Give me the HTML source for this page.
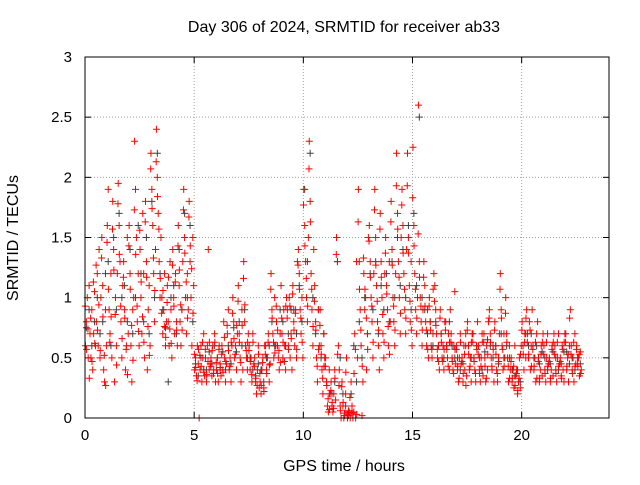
<!DOCTYPE html>
<html><head><meta charset="utf-8"><style>
html,body{margin:0;padding:0;background:#fff;}
svg text{font-family:"Liberation Sans",sans-serif;font-size:16px;fill:#000;}
svg text.tick{font-size:15px;}
</style></head><body>
<svg id="chart" width="640" height="480" xmlns="http://www.w3.org/2000/svg">
<rect width="640" height="480" fill="#fff"/>
<text x="344" y="32" text-anchor="middle">Day 306 of 2024, SRMTID for receiver ab33</text>
<text x="344" y="471" text-anchor="middle">GPS time / hours</text>
<text transform="translate(18,238) rotate(-90)" text-anchor="middle">SRMTID / TECUs</text>
<g id="grid"></g><g id="ticks"></g><g id="black"></g><g id="red"></g>
<rect x="85" y="57" width="524" height="361" fill="none" stroke="#000"/>
</svg>
<script>
const xTicks=[0,5,10,15,20];
const yTicks=[0,0.5,1,1.5,2,2.5,3];
const yTickLabels=["0","0.5","1","1.5","2","2.5","3"];
const binStart=0, binWidth=0.25;
const redValues=[
[0.6,0.8,1.0,0.5,1.1,0.7],[0.5,0.9,0.4,0.7,1.05,0.6],[0.8,1.2,0.6,1.4,0.5,1.0],[1.5,1.1,0.4,0.3,0.9,0.6],
[1.6,1.9,0.9,0.7,1.2,0.5],[1.8,1.4,0.3,1.0,0.6,1.2],[1.95,1.6,1.3,0.8,0.5,1.1],[1.3,0.9,0.4,0.6,1.5,0.7],
[1.6,1.2,0.6,0.3,0.9,1.0],[2.3,1.9,1.5,0.8,1.2,0.6],[1.4,1.0,0.7,1.7,1.2,0.5],[1.8,1.3,0.4,0.9,1.1,0.6],
[2.2,1.9,1.6,1.2,0.8,1.4],[2.4,2.0,1.7,1.3,1.0,1.5],[1.0,0.7,0.9,1.2,0.6,0.8],[1.1,0.8,0.6,1.3,0.9,0.5],
[1.4,1.0,0.7,1.2,0.8,0.6],[1.6,1.1,0.8,0.6,0.9,1.3],[1.9,1.5,1.0,0.7,1.2,0.9],[1.8,1.3,1.0,0.6,1.5,1.1],
[0.4,0.5,0.35,0.6,0.45,0.0],[0.4,0.6,0.3,0.5,0.7,0.35],[0.5,0.3,0.6,1.4,0.4,0.45],[0.5,0.35,0.6,0.4,0.7,0.3],
[0.4,0.5,0.3,0.6,0.45,0.35],[0.6,0.4,0.8,0.5,0.3,0.45],[0.7,0.9,0.4,0.5,0.3,0.6],[1.0,0.8,0.5,0.6,0.4,0.7],
[1.1,0.7,0.5,0.3,0.9,0.4],[1.3,0.8,0.6,0.5,0.4,0.7],[0.6,0.4,0.5,0.3,0.7,0.45],[0.5,0.3,0.2,0.4,0.6,0.25],
[0.3,0.2,0.4,0.5,0.25,0.6],[0.6,0.4,0.5,0.7,0.3,0.45],[1.2,0.9,0.7,0.5,1.0,0.6],[0.8,0.6,0.5,0.4,0.7,1.1],
[0.7,0.5,0.9,0.6,0.4,1.0],[0.9,0.6,1.0,0.5,0.7,0.4],[1.1,0.8,0.6,0.9,0.5,1.3],[1.4,1.2,0.9,0.7,1.0,0.5],
[1.9,1.6,1.3,1.0,0.8,1.5],[2.3,1.8,1.2,0.9,0.6,1.4],[1.1,0.8,0.5,0.3,0.9,0.6],[0.9,0.6,0.4,0.2,0.7,0.5],
[0.5,0.3,0.1,0.05,0.4,0.2],[0.3,0.1,0.05,0.2,0.4,0.15],[1.5,1.3,0.6,0.4,0.1,0.0],[0.3,0.1,0.0,0.02,0.2,0.5],
[0.0,0.02,0.05,0.0,0.3,0.1],[0.0,0.05,0.7,0.0,1.3,0.5],[1.9,1.3,0.9,0.6,0.02,0.3],[1.2,0.9,1.0,0.4,0.7,1.5],
[1.6,1.3,1.0,0.8,0.5,1.2],[1.9,1.5,1.1,0.8,0.6,0.4],[1.7,1.3,1.0,0.7,0.5,1.2],[1.5,1.1,0.9,0.6,1.3,0.8],
[1.8,1.4,1.0,0.8,0.6,1.2],[2.2,1.7,1.3,1.0,0.7,1.5],[1.9,1.6,1.2,0.9,0.7,1.4],[2.2,1.5,1.1,0.8,1.3,0.6],
[2.25,1.6,1.2,0.9,0.7,1.0],[2.6,1.3,1.0,0.8,0.6,0.9],[1.3,1.1,0.8,0.6,0.9,0.5],[1.0,0.8,0.6,0.5,0.7,1.2],
[1.1,0.9,0.7,0.5,0.6,0.4],[0.9,0.7,0.5,0.6,0.4,0.8],[0.8,0.6,0.5,0.7,0.4,0.9],[0.7,0.5,0.4,0.6,1.05,0.45],
[0.6,0.4,0.3,0.5,0.7,0.45],[0.5,0.3,0.6,0.4,0.7,0.35],[0.8,0.6,0.4,0.5,0.3,0.7],[0.7,0.5,0.4,0.3,0.6,0.8],
[0.6,0.4,0.3,0.5,0.7,0.35],[0.7,0.5,0.3,0.6,0.4,0.8],[0.9,0.7,0.5,0.4,0.6,0.3],[0.8,0.6,0.4,0.3,0.5,0.7],
[1.2,0.9,0.6,0.4,0.7,0.5],[1.0,0.7,0.5,0.3,0.6,0.4],[0.5,0.3,0.4,0.25,0.6,0.35],[0.4,0.2,0.3,0.5,0.25,0.6],
[0.8,0.6,0.4,0.7,0.5,0.9],[0.7,0.5,0.8,0.4,0.6,0.9],[0.6,0.4,0.5,0.3,0.7,0.8],[0.5,0.3,0.4,0.6,0.35,0.7],
[0.6,0.4,0.3,0.5,0.7,0.45],[0.5,0.3,0.4,0.6,0.35,0.7],[0.6,0.4,0.3,0.5,0.7,0.45],[0.5,0.35,0.6,0.4,0.3,0.7],
[0.7,0.4,0.5,0.3,0.6,0.9],[0.6,0.4,0.5,0.3,0.7,0.45],[0.6,0.45,0.5,0.35,0.55,0.4]];
const redValues2=[
[0.93,0.57,0.74,0.33],[0.83,0.47,1.13,0.62],[1.27,0.73,0.94,0.56],[1.33,0.84,0.52,0.27],
[1.46,1.07,0.63,0.84],[1.57,1.23,0.86,0.44],[1.78,1.36,0.93,0.66],[1.17,0.83,0.57,0.36],
[1.43,1.07,0.77,0.48],[1.73,1.36,0.93,0.72],[1.56,1.13,0.84,0.63],[1.63,1.17,0.76,0.52],
[2.07,1.74,1.33,1.06],[2.13,1.84,1.57,1.16],[0.87,1.06,0.76,0.67],[0.96,1.17,0.74,0.62],
[1.27,0.93,1.13,0.73],[1.43,1.23,0.94,0.73],[1.73,1.37,1.13,0.83],[1.67,1.43,1.24,0.87],
[0.53,0.42,0.31,0.57],[0.52,0.43,0.63,0.38],[0.57,0.36,0.47,0.63],[0.43,0.56,0.37,0.63],
[0.46,0.37,0.57,0.42],[0.53,0.38,0.67,0.47],[0.77,0.56,0.43,0.63],[0.87,0.66,0.53,0.77],
[0.97,0.63,0.46,0.77],[1.16,0.94,0.56,0.63],[0.56,0.47,0.36,0.63],[0.43,0.33,0.27,0.53],
[0.37,0.27,0.46,0.22],[0.53,0.37,0.63,0.44],[1.07,0.83,0.63,0.54],[0.93,0.73,0.56,0.46],
[0.83,0.63,0.47,0.93],[0.83,0.57,0.93,0.66],[1.03,0.73,0.87,0.57],[1.27,1.07,0.83,0.63],
[1.77,1.43,1.16,0.93],[2.07,1.63,1.07,0.76],[0.97,0.73,0.43,0.57],[0.77,0.53,0.33,0.43],
[0.43,0.27,0.16,0.07],[0.23,0.13,0.08,0.33],[1.36,0.53,0.27,0.06],[0.26,0.13,0.04,0.38],
[0.03,0.06,0.17,0.04],[0.04,0.37,0.57,0.03],[1.63,1.07,0.73,0.43],[1.33,1.07,0.83,0.57],
[1.47,1.17,0.93,0.63],[1.73,1.27,0.97,0.73],[1.57,1.17,0.86,0.63],[1.37,1.03,0.76,0.53],
[1.63,1.27,0.93,0.73],[1.93,1.57,1.17,0.87],[1.77,1.37,1.07,0.83],[1.93,1.37,0.97,0.73],
[1.83,1.43,1.07,0.83],[1.53,1.17,0.93,0.73],[1.17,0.93,0.73,0.57],[0.93,0.73,0.57,1.07],
[0.97,0.77,0.57,0.47],[0.83,0.63,0.47,0.57],[0.73,0.57,0.43,0.63],[0.63,0.47,0.37,0.57],
[0.57,0.43,0.33,0.63],[0.47,0.37,0.53,0.27],[0.73,0.53,0.43,0.63],[0.63,0.47,0.37,0.57],
[0.53,0.37,0.43,0.63],[0.63,0.43,0.33,0.53],[0.83,0.63,0.43,0.57],[0.73,0.53,0.37,0.47],
[1.07,0.83,0.57,0.43],[0.87,0.63,0.43,0.33],[0.47,0.33,0.43,0.27],[0.37,0.23,0.33,0.53],
[0.73,0.53,0.63,0.83],[0.63,0.53,0.73,0.43],[0.57,0.43,0.63,0.33],[0.47,0.33,0.53,0.63],
[0.53,0.37,0.63,0.43],[0.47,0.33,0.57,0.63],[0.53,0.37,0.63,0.43],[0.47,0.33,0.57,0.63],
[0.63,0.43,0.53,0.83],[0.53,0.37,0.63,0.43],[0.57,0.43,0.53,0.37]];
const blackValues=[
[0.75,0.9],[0.6,0.8],[1.0,0.7],[0.8,1.2],[1.3,0.6],[1.5,0.9],[1.7,1.0],[1.1,0.8],[1.4,0.7],[1.0,1.6],[1.2,0.8],[1.5,0.7],
[1.8,1.0],[2.2,1.2],[0.9,0.75],[0.3,1.0],[1.1,0.7],[1.4,0.9],[1.7,1.0],[1.6,0.8],[0.45,0.35],[0.5,0.4],[0.4,0.55],[0.45,0.6],
[0.5,0.4],[0.55,0.4],[0.6,0.45],[0.75,0.55],[0.8,0.6],[0.9,0.5],[0.5,0.4],[0.35,0.45],[0.4,0.3],[0.5,0.6],[0.8,0.6],[0.6,0.9],
[0.8,0.6],[0.7,0.9],[0.9,0.7],[1.1,0.8],[1.9,1.3],[2.2,1.0],[0.7,0.9],[0.5,0.7],[0.3,0.2],[0.2,0.3],[1.3,0.5],[0.2,0.1],
[0.05,0.2],[0.6,0.3],[0.8,0.5],[1.0,0.7],[1.2,0.9],[1.3,0.7],[1.1,0.9],[1.2,0.8],[1.3,1.0],[1.5,1.1],[1.4,1.0],[1.6,0.9],
[1.7,1.1],[2.5,1.0],[0.9,0.7],[0.8,0.6],[0.8,0.6],[0.7,0.5],[0.6,0.8],[0.6,0.5],[0.5,0.4],[0.45,0.6],[0.6,0.5],[0.5,0.6],
[0.5,0.4],[0.55,0.65],[0.6,0.5],[0.6,0.45],[0.7,0.5],[0.6,0.5],[0.4,0.35],[0.4,0.3],[0.6,0.7],[0.6,0.7],[0.5,0.6],[0.45,0.55],
[0.5,0.4],[0.45,0.55],[0.5,0.4],[0.45,0.55],[0.55,0.45],[0.5,0.4],[0.5,0.45]];
const X0=85,X1=609,Y0=418,Y1=57,XMAX=24,YMAX=3;
const xs=t=>X0+(X1-X0)*t/XMAX, ys=v=>Y0-(Y0-Y1)*v/YMAX;
const NS="http://www.w3.org/2000/svg";
function mk(tag,attrs,parent){const e=document.createElementNS(NS,tag);for(const k in attrs)e.setAttribute(k,attrs[k]);document.getElementById(parent).appendChild(e);return e;}
xTicks.forEach(t=>{
 const x=xs(t);
 if(t>0){const g=mk('line',{x1:x,x2:x,y1:Y0,y2:Y1,stroke:'#a0a0a0','stroke-dasharray':'1,2'},'grid');
 
 }
 mk('line',{x1:x,x2:x,y1:Y0,y2:Y0-6,stroke:'#000'},'ticks');
 mk('line',{x1:x,x2:x,y1:Y1,y2:Y1+6,stroke:'#000'},'ticks');
 const l=mk('text',{x:x,y:Y0+22,'text-anchor':'middle','class':'tick'},'ticks');l.textContent=String(t);
 
 
});
yTicks.forEach((v,i)=>{
 const y=ys(v);
 if(v>0&&v<YMAX){const g=mk('line',{x1:X0,x2:X1,y1:y,y2:y,stroke:'#a0a0a0','stroke-dasharray':'1,2'},'grid');
 
 }
 mk('line',{x1:X0,x2:X0+6,y1:y,y2:y,stroke:'#000'},'ticks');
 mk('line',{x1:X1,x2:X1-6,y1:y,y2:y,stroke:'#000'},'ticks');
 const l=mk('text',{x:X0-13,y:y+5,'text-anchor':'end','class':'tick'},'ticks');l.textContent=yTickLabels[i];
 
 
});
function plus(t,v,color,parent,name){
 const x=xs(t),y=ys(v);
 const p=mk('path',{d:`M${x-3.5},${y}H${x+3.5}M${x},${y-3.5}V${y+3.5}`,stroke:color,'stroke-width':1,fill:'none'},parent);
 
 
}
function series(vals,color,parent,name,shift){
 vals.forEach((bin,b)=>{
  const n=bin.length;
  bin.forEach((v,i)=>{plus(binStart+b*binWidth+((i+shift)/n)*binWidth,v,color,parent,name);});
 });
}
series(blackValues,'#404040','black','black-point',0.5);
series(redValues,'#ff0000','red','red-point',0.5);
series(redValues2,'#ff0000','red','red-point',0.15);
</script>
</body></html>
